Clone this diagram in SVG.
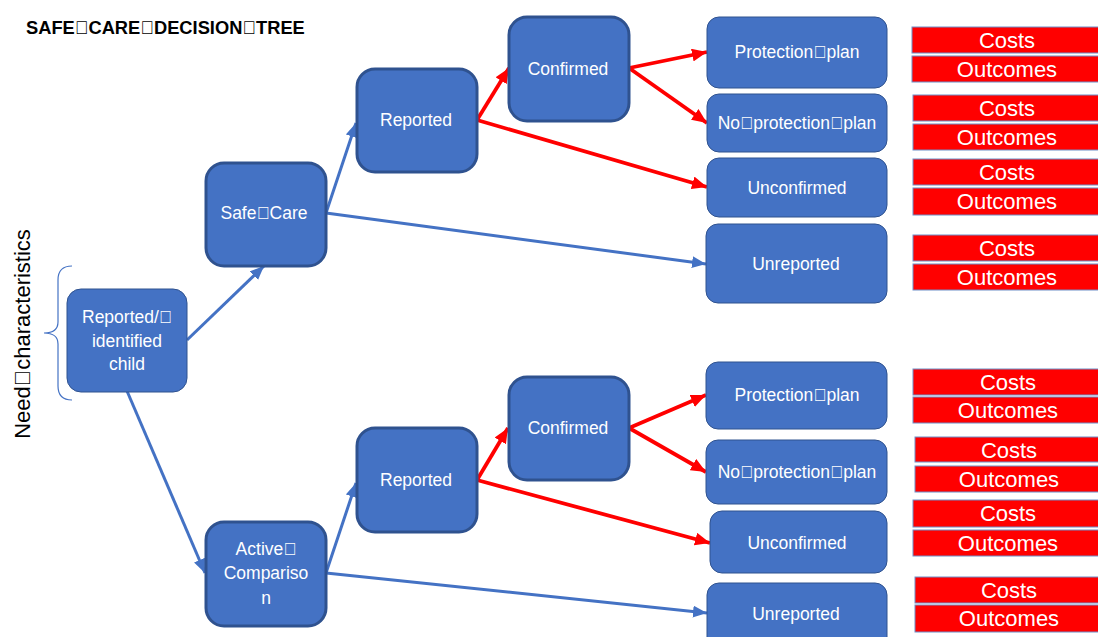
<svg xmlns="http://www.w3.org/2000/svg" width="1098" height="637" viewBox="0 0 1098 637">
<style>
.bg{fill:#ffffff}
.thick{fill:#4472C4;stroke:#2F528F;stroke-width:3}
.thin{fill:#4472C4;stroke:#2F528F;stroke-width:1}
.red{fill:#FF0000;stroke:#6F8FC8;stroke-width:1}
.nt{font-family:"Liberation Sans",Arial,sans-serif;font-size:17.5px;fill:#ffffff;text-anchor:middle}
.ct{font-family:"Liberation Sans",Arial,sans-serif;font-size:22px;fill:#ffffff;text-anchor:middle}
.title{font-family:"Liberation Sans",Arial,sans-serif;font-size:18.3px;font-weight:bold;fill:#000000}
.side{font-family:"Liberation Sans",Arial,sans-serif;font-size:22px;fill:#000000;text-anchor:middle}
.bl{stroke:#4472C4;stroke-width:3;fill:none;marker-end:url(#ab)}
.rd{stroke:#FF0000;stroke-width:3.8;fill:none;marker-end:url(#ar)}
</style>
<defs>
<marker id="ab" markerUnits="userSpaceOnUse" markerWidth="14" markerHeight="12" refX="13" refY="5.5" orient="auto" viewBox="0 0 13 11">
<path d="M0,0 L13,5.5 L0,11 z" fill="#4472C4"/>
</marker>
<marker id="ar" markerUnits="userSpaceOnUse" markerWidth="15" markerHeight="13" refX="15" refY="6.5" orient="auto" viewBox="0 0 15 13">
<path d="M0,0 L15,6.5 L0,13 z" fill="#FF0000"/>
</marker>
</defs>
<rect class="bg" x="0" y="0" width="1098" height="637"/>

<text class="title" x="26" y="34">SAFE&#xF020;CARE&#xF020;DECISION&#xF020;TREE</text>
<text class="side" transform="translate(30,334) rotate(-90)">Need&#xF020;characteristics</text>
<path d="M72,266 Q58,266 58,280 L58,322 Q58,333 44,333 Q58,333 58,344 L58,386 Q58,400 72,400" fill="none" stroke="#4472C4" stroke-width="1.2"/>

<g id="connectors">
<line class="bl" x1="187" y1="340" x2="264" y2="266"/>
<line class="bl" x1="127" y1="391" x2="205" y2="573"/>
<line class="bl" x1="326" y1="213" x2="356" y2="123"/>
<line class="bl" x1="326" y1="213" x2="706" y2="264"/>
<line class="bl" x1="326" y1="573" x2="356" y2="483"/>
<line class="bl" x1="326" y1="573" x2="707" y2="613"/>
<line class="rd" x1="477" y1="120" x2="509" y2="68"/>
<line class="rd" x1="477" y1="120" x2="707" y2="187"/>
<line class="rd" x1="629" y1="68" x2="707" y2="52"/>
<line class="rd" x1="629" y1="68" x2="707" y2="123"/>
<line class="rd" x1="477" y1="480" x2="508" y2="428"/>
<line class="rd" x1="477" y1="480" x2="710" y2="543"/>
<line class="rd" x1="629" y1="428" x2="706" y2="395"/>
<line class="rd" x1="629" y1="428" x2="706" y2="472"/>
</g>

<g id="child">
<rect class="thin" x="67" y="289" width="120" height="103" rx="14"/>
<text class="nt" x="127" y="323">Reported/&#xF020;</text>
<text class="nt" x="127" y="347">identified</text>
<text class="nt" x="127" y="370">child</text>
</g>
<g id="safecare">
<rect class="thick" x="206" y="163" width="120" height="103" rx="18"/>
<text class="nt" x="264" y="219">Safe&#xF020;Care</text>
</g>
<g id="active">
<rect class="thick" x="206" y="522" width="120" height="104" rx="18"/>
<text class="nt" x="266" y="555">Active&#xF020;</text>
<text class="nt" x="266" y="579">Compariso</text>
<text class="nt" x="266" y="604">n</text>
</g>
<g id="reported1">
<rect class="thick" x="357" y="69" width="120" height="103" rx="18"/>
<text class="nt" x="416" y="126">Reported</text>
</g>
<g id="confirmed1">
<rect class="thick" x="509" y="17" width="120" height="104" rx="18"/>
<text class="nt" x="568" y="75">Confirmed</text>
</g>
<g id="reported2">
<rect class="thick" x="357" y="428" width="120" height="104" rx="18"/>
<text class="nt" x="416" y="486">Reported</text>
</g>
<g id="confirmed2">
<rect class="thick" x="509" y="377" width="120" height="103" rx="18"/>
<text class="nt" x="568" y="434">Confirmed</text>
</g>

<g id="protection1">
<rect class="thin" x="707" y="17" width="180" height="71" rx="12"/>
<text class="nt" x="797" y="58">Protection&#xF020;plan</text>
</g>
<g id="noprotection1">
<rect class="thin" x="707" y="94" width="180" height="58" rx="12"/>
<text class="nt" x="797" y="129">No&#xF020;protection&#xF020;plan</text>
</g>
<g id="unconfirmed1">
<rect class="thin" x="707" y="158" width="180" height="59" rx="12"/>
<text class="nt" x="797" y="194">Unconfirmed</text>
</g>
<g id="unreported1">
<rect class="thin" x="706" y="224" width="181" height="79" rx="12"/>
<text class="nt" x="796" y="270">Unreported</text>
</g>
<g id="protection2">
<rect class="thin" x="706" y="362" width="181" height="67" rx="12"/>
<text class="nt" x="797" y="401">Protection&#xF020;plan</text>
</g>
<g id="noprotection2">
<rect class="thin" x="706" y="440" width="181" height="64" rx="12"/>
<text class="nt" x="797" y="478">No&#xF020;protection&#xF020;plan</text>
</g>
<g id="unconfirmed2">
<rect class="thin" x="710" y="511" width="177" height="62" rx="12"/>
<text class="nt" x="797" y="549">Unconfirmed</text>
</g>
<g id="unreported2">
<rect class="thin" x="707" y="583" width="180" height="70" rx="12"/>
<text class="nt" x="796" y="620">Unreported</text>
</g>

<g id="co1"><rect class="red" x="912" y="27" width="190" height="26"/><text class="ct" x="1007" y="48">Costs</text>
<rect class="red" x="912" y="56" width="190" height="26"/><text class="ct" x="1007" y="77">Outcomes</text></g>
<g id="co2"><rect class="red" x="913" y="95" width="190" height="26"/><text class="ct" x="1007" y="116">Costs</text>
<rect class="red" x="913" y="124" width="190" height="26"/><text class="ct" x="1007" y="145">Outcomes</text></g>
<g id="co3"><rect class="red" x="913" y="159" width="190" height="26"/><text class="ct" x="1007" y="180">Costs</text>
<rect class="red" x="913" y="188" width="190" height="27"/><text class="ct" x="1007" y="209">Outcomes</text></g>
<g id="co4"><rect class="red" x="913" y="235" width="190" height="26"/><text class="ct" x="1007" y="256">Costs</text>
<rect class="red" x="913" y="264" width="190" height="26"/><text class="ct" x="1007" y="285">Outcomes</text></g>
<g id="co5"><rect class="red" x="913" y="369" width="190" height="26"/><text class="ct" x="1008" y="390">Costs</text>
<rect class="red" x="913" y="397" width="190" height="26"/><text class="ct" x="1008" y="418">Outcomes</text></g>
<g id="co6"><rect class="red" x="915" y="437" width="190" height="25"/><text class="ct" x="1009" y="458">Costs</text>
<rect class="red" x="915" y="466" width="190" height="26"/><text class="ct" x="1009" y="487">Outcomes</text></g>
<g id="co7"><rect class="red" x="913" y="500" width="190" height="27"/><text class="ct" x="1008" y="521">Costs</text>
<rect class="red" x="913" y="530" width="190" height="26"/><text class="ct" x="1008" y="551">Outcomes</text></g>
<g id="co8"><rect class="red" x="915" y="577" width="190" height="26"/><text class="ct" x="1009" y="598">Costs</text>
<rect class="red" x="915" y="605" width="190" height="27"/><text class="ct" x="1009" y="626">Outcomes</text></g>
</svg>
